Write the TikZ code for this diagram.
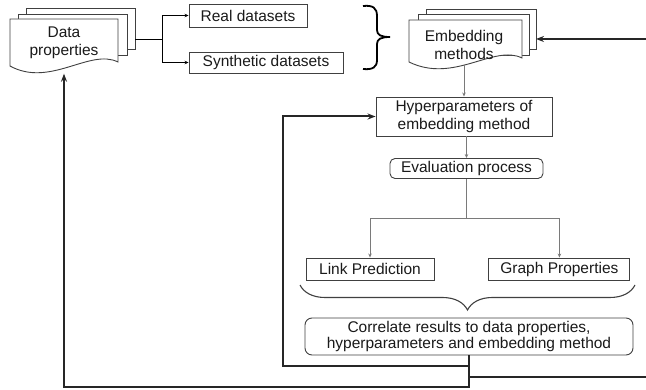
\documentclass[tikz,border=0pt]{standalone}
\usepackage{fontspec}
\setmainfont{Liberation Sans}
\usepackage{tikz}
\usetikzlibrary{positioning}
\usetikzlibrary{arrows.meta}
\usetikzlibrary{decorations.pathreplacing}
\definecolor{LineGray}{HTML}{404040}
\definecolor{ArrowGray}{HTML}{7a7a7a}
\definecolor{TextBlack}{HTML}{1a1a1a}
\tikzset{
	box/.style={ % rectangles with text
			draw=LineGray,
			line width=0.9pt,
			fill=white,
			text=TextBlack,
			align=center,
			inner sep=1pt,
			font=\fontsize{15.5}{18}\selectfont
		},
	roundbox/.style={box, rounded corners=5pt},
	label only/.style={text=TextBlack, align=center, inner sep=0pt, font=\fontsize{15.5}{18}\selectfont},
	page/.style={draw=LineGray, line width=0.9pt, fill=white},
	thin line/.style={draw=ArrowGray, line width=0.8pt},
	thin arrow/.style={thin line, -{Stealth[length=4pt, width=3.5pt]}},
	feedback/.style={draw=black!85, line width=2pt, -{Stealth[length=8pt, width=6pt]}}
}

\begin{document}
\begin{tikzpicture}[x=1pt, y=-1pt]
	\useasboundingbox (0,0) rectangle (646,390);
	\clip (0,0) rectangle (646,390);

	% Document stacks
	\draw[page] (26,8) rectangle (135,49);
	\draw[page] (18,14) rectangle (127,55);
	\draw[page] (10,19) -- (118,19) -- (118,62) .. controls (90,48) and (50,88) .. (10,66) -- cycle;
	\draw[page] (426,9) rectangle (536,49);
	\draw[page] (418,14) rectangle (529,55);
	\draw[page] (409,20) -- (522,20) -- (522,58) .. controls (494,44) and (454,84) .. (409,62) -- cycle;

	% Nodes
	\node (data) [label only, minimum width=108pt, minimum height=62pt] at (64,42.5) {Data\\properties};
	\node (embed) [label only, minimum width=113pt, minimum height=40pt] at (464,44.5) {Embedding\\methods};
	\node (real) [box, minimum width=118pt, minimum height=23pt] at (248,15.5) {Real datasets};
	\node (synth) [box, minimum width=154pt, minimum height=21pt] at (266,62.5) {Synthetic datasets};
	\node (hyper) [box, minimum width=176pt, minimum height=39pt] at (464,116.5) {Hyperparameters of\\embedding method};
	\node (eval) [roundbox, minimum width=153pt, minimum height=20pt] at (466.5,168.5) {Evaluation process};
	\node (link) [box, minimum width=128pt, minimum height=22pt] at (370,269) {Link Prediction};
	\node (graph) [box, minimum width=141pt, minimum height=22pt, right=54pt of link] {Graph Properties};
	\node (corr) [roundbox, rounded corners=7pt, minimum width=328pt, minimum height=37pt,
		font=\fontsize{15.5}{15.5}\selectfont] at (469,336.5) {Correlate results to data properties,\\hyperparameters and embedding method};

	\coordinate (dataout) at (135,39);
	\coordinate (dsplit) at (162,39);
	\coordinate (evalsplit) at (466.5,218);
	\coordinate (embedin) at (536,39);
	\coordinate (fbleft) at (283,366);
	\coordinate (fbright) at (660,377);
	\coordinate (fbdata) at (64,387);

	% Braces
	\draw[black, line width=1.8pt] (363,6) .. controls (373,5) and (377,8) .. (377,16) -- (377,30)
		.. controls (377,35) and (381,37) .. (390,37) .. controls (381,37) and (377,39) .. (377,44)
		-- (377,60) .. controls (377,67) and (373,70) .. (363,69);
	\draw[LineGray, line width=1.1pt, decorate, decoration={brace, amplitude=25pt}] (635,285) -- (300,285);

	% Connectors
	\draw[black, line width=0.9pt] (dataout) -- (dsplit);
	\draw[thin arrow, draw=black] (dsplit) |- (real);
	\draw[thin arrow, draw=black] (dsplit) |- (synth);
	\draw[thin arrow] (embed) -- (hyper);
	\draw[thin arrow] (hyper.south -| eval.north) -- (eval);
	\draw[thin line] (eval) -- (evalsplit);
	\draw[thin arrow] (evalsplit) -| (link);
	\draw[thin arrow] (evalsplit) -| (graph);

	% Feedback loops
	\draw[feedback] (corr.south) |- (fbleft) |- (hyper.west);
	\draw[feedback] (corr.south) |- (fbright) |- (embedin);
	\draw[feedback] (corr.south) |- (fbdata) -- (data.south);

\end{tikzpicture}
\end{document}
